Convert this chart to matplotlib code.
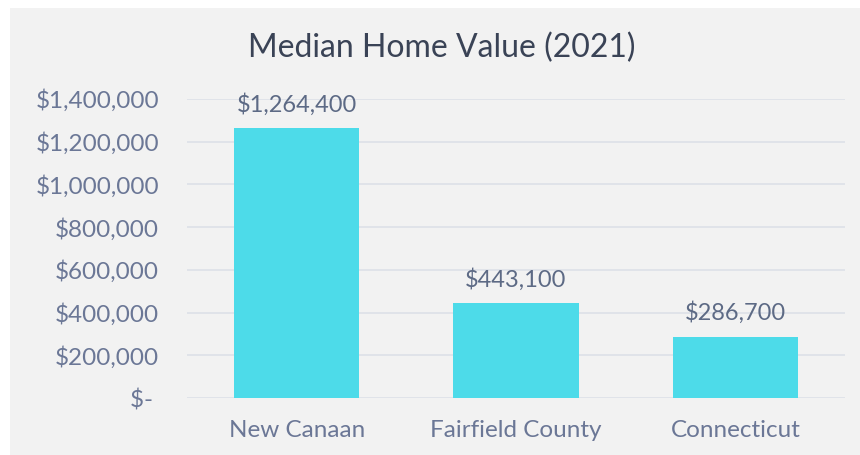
import matplotlib.pyplot as plt
from matplotlib.ticker import FuncFormatter

# dati
luoghi = ["New Canaan", "Fairfield County", "Connecticut"]
valori = [1264400, 443100, 286700]
tick_y = [0, 200000, 400000, 600000, 800000, 1000000, 1200000, 1400000]

plt.rcParams['font.family'] = ['Lato', 'DejaVu Sans']

fig = plt.figure(figsize=(8.6, 4.55), dpi=100, facecolor='white')
# pannello grigio con bordo bianco in alto e a sinistra
sfondo = fig.add_axes([10 / 860, 0, 850 / 860, 447 / 455], zorder=-10)
sfondo.axis('off')
sfondo.add_patch(plt.Rectangle((0, 0), 1, 1, transform=sfondo.transAxes,
                               facecolor='#f2f2f2', edgecolor='none'))

ax = fig.add_axes([187 / 860, (455 - 398) / 455, 658 / 860, 299 / 455])
ax.set_facecolor('none')

ax.bar(range(len(luoghi)), valori, width=0.57, color='#4ddbe9', zorder=3)
for i, v in enumerate(valori):
    ax.annotate(f"${v:,.0f}", (i, v), xytext=(0, 9), textcoords='offset points',
                ha='center', va='bottom', fontsize=17, color='#5d6a85')

ax.set_xlim(-0.5, 2.5)
ax.set_ylim(0, 1400000)
ax.set_yticks(tick_y)
ax.yaxis.set_major_formatter(FuncFormatter(lambda x, p: "$- " if x == 0 else f"${x:,.0f}"))
ax.set_xticks(range(len(luoghi)))
ax.set_xticklabels(luoghi)
ax.tick_params(axis='both', length=0, labelsize=17.5, labelcolor='#6b7796')
ax.tick_params(axis='y', pad=20)
ax.tick_params(axis='x', pad=16)
ax.grid(axis='y', color='#dde0e8', linewidth=1.2, zorder=1)
for s in ax.spines.values():
    s.set_visible(False)

fig.text(442 / 860, 1 - 48 / 455, "Median Home Value (2021)", ha='center', va='center',
         fontsize=23, color='#3a4356')

fig.savefig("out.png", dpi=100, facecolor=fig.get_facecolor())
